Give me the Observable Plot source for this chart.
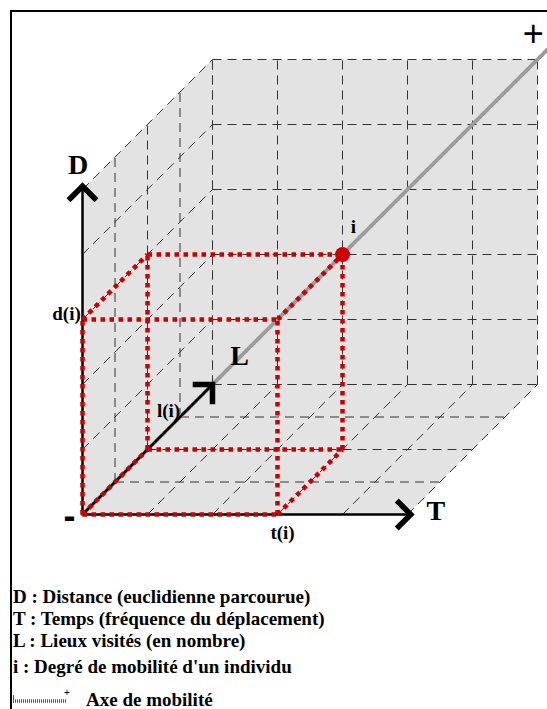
<!DOCTYPE html>
<html><head><meta charset="utf-8">
<script src="https://cdn.jsdelivr.net/npm/d3@7"></script>
<script src="https://cdn.jsdelivr.net/npm/@observablehq/plot@0.6"></script>
<style>
body{margin:0;background:#fff}
#wrap{position:relative;width:547px;height:709px;overflow:hidden;background:#fff}
#chart{position:absolute;left:0;top:0}
#legend{position:absolute;left:0;top:560px}
#frame{position:absolute;left:10px;top:10px;width:600px;height:800px;border-left:2px solid #000;border-top:2px solid #000;pointer-events:none}
</style></head>
<body><div id="wrap"><div id="chart"></div><div id="legend"></div><div id="frame"></div></div>
<script>
// ---- data ----
const T_TICKS = [0, 1, 2, 3, 4, 5];          // Temps grid
const D_TICKS = [0, 1, 2, 3, 4, 5];          // Distance grid
const L_TICKS = [0, 1, 2, 3, 4];             // Lieux grid (depth)
const individu = {t: 3, d: 3, l: 2};         // position of individual i
const axisEnd = {t: 5.05, d: 5.05, l: 4};    // length of the three axes
const mobilityEnd = {t: 5.35, d: 5.35, l: 3.6}; // end of mobility axis
const legendLines = [
  "D : Distance (euclidienne parcourue)",
  "T : Temps (fréquence du déplacement)",
  "L : Lieux visités (en nombre)",
  "i : Degré de mobilité d'un individu"
];
const legendAxis = "Axe de mobilité";

// ---- oblique projection ----
const DEPTH = 0.5;
const px = p => p.t + DEPTH * p.l;
const py = p => p.d + DEPTH * p.l;
const tMax = d3.max(T_TICKS), dMax = d3.max(D_TICKS), lMax = d3.max(L_TICKS);
const O = {t: 0, d: 0, l: 0};

// silhouette of the cube (back wall + left wall + floor)
const hull = [
  {t: 0, d: 0, l: 0}, {t: 0, d: dMax, l: 0}, {t: 0, d: dMax, l: lMax},
  {t: tMax, d: dMax, l: lMax}, {t: tMax, d: 0, l: lMax}, {t: tMax, d: 0, l: 0}
];

// dashed grid on the three walls
const grid = [];
for (const t of T_TICKS) grid.push([{t, d: 0, l: lMax}, {t, d: dMax, l: lMax}]);
for (const d of D_TICKS) grid.push([{t: 0, d, l: lMax}, {t: tMax, d, l: lMax}]);
for (const l of L_TICKS) grid.push([{t: 0, d: 0, l}, {t: 0, d: dMax, l}]);
for (const d of D_TICKS) grid.push([{t: 0, d, l: 0}, {t: 0, d, l: lMax}]);
for (const l of L_TICKS) grid.push([{t: 0, d: 0, l}, {t: tMax, d: 0, l}]);
for (const t of T_TICKS) grid.push([{t, d: 0, l: 0}, {t, d: 0, l: lMax}]);

// box of the individual
const corners = [];
for (const t of [0, individu.t]) for (const d of [0, individu.d]) for (const l of [0, individu.l]) corners.push({t, d, l});
const box = [];
for (let i = 0; i < corners.length; i++) for (let j = i + 1; j < corners.length; j++) {
  const a = corners[i], b = corners[j];
  const diff = (a.t !== b.t) + (a.d !== b.d) + (a.l !== b.l);
  if (diff === 1) box.push([a, b]);
}

const axes = [{t: axisEnd.t, d: 0, l: 0}, {t: 0, d: axisEnd.d, l: 0}, {t: 0, d: 0, l: axisEnd.l}];

function chevron(deg) {
  const a = deg * Math.PI / 180, c = Math.cos(a), s = Math.sin(a);
  const rot = (x, y) => [x * c - y * s, x * s + y * c];
  return {draw(ctx, size) {
    const r = Math.sqrt(size / Math.PI);
    const p1 = rot(-r, r), p2 = rot(r, r);
    ctx.moveTo(p1[0], p1[1]); ctx.lineTo(0, 0); ctx.lineTo(p2[0], p2[1]);
  }};
}
const seg = {x1: s => px(s[0]), y1: s => py(s[0]), x2: s => px(s[1]), y2: s => py(s[1])};
const serif = {fontFamily: "Liberation Serif, Times New Roman, serif", fontWeight: "bold", fill: "black"};
const label = (p, text, opts) => Plot.text([p], {x: px, y: py, text: () => text, ...serif, ...opts});
const head = (p, deg) => Plot.dot([p], {x: px, y: py, r: 14, symbol: chevron(deg), fill: "none", stroke: "black", strokeWidth: 5.5, strokeLinejoin: "miter"});

const chart = Plot.plot({
  width: 547, height: 560,
  x: {domain: [0, 1], range: [82, 147], axis: null},
  y: {domain: [0, 1], range: [514, 449], axis: null},
  style: {background: "transparent", overflow: "visible"},
  marks: [
    Plot.line(hull, {x: px, y: py, fill: "#e3e3e3", stroke: "none"}),
    Plot.link(grid, {...seg, stroke: "#333", strokeWidth: 1, strokeDasharray: "9,6"}),
    Plot.line([O, mobilityEnd], {x: px, y: py, stroke: "#9c9c9c", strokeWidth: 4, strokeDasharray: "1.4,2"}),
    Plot.link(axes, {x1: () => 0, y1: () => 0, x2: px, y2: py, stroke: "black", strokeWidth: 2.5}),
    head(axes[0], 90), head(axes[1], 0), head(axes[2], 45),
    Plot.link(box, {...seg, stroke: "#cc0000", strokeWidth: 4.5, strokeDasharray: "4.5,4.5"}),
    Plot.dot([individu], {x: px, y: py, r: 7.5, fill: "#d00000"}),
    label(axes[1], "D", {fontSize: 28, dx: -4.5, dy: -21.5}),
    label(axes[0], "T", {fontSize: 28, dx: 25, dy: -3}),
    label(axes[2], "L", {fontSize: 28, dx: 27, dy: -28}),
    label({t: 0, d: individu.d, l: 0}, "d(i)", {fontSize: 19, dx: -16, dy: -6}),
    label({t: 0, d: 0, l: individu.l}, "l(i)", {fontSize: 19, dx: 21, dy: -39}),
    label({t: individu.t, d: 0, l: 0}, "t(i)", {fontSize: 19, dx: 5, dy: 18}),
    label(individu, "i", {fontSize: 19, dx: 11, dy: -28}),
    Plot.text([O], {x: px, y: py, text: () => "-", fontFamily: "Liberation Sans, Arial, sans-serif", fontWeight: "bold", fontSize: 36, dx: -13, dy: 2}),
    Plot.text([mobilityEnd], {x: px, y: py, text: () => "+", fontFamily: "Liberation Sans, Arial, sans-serif", fontSize: 36, dx: -14, dy: -15})
  ]
});
document.getElementById("chart").appendChild(chart);

// ---- legend ----
const leg = d3.select("#legend").append("svg").attr("width", 547).attr("height", 149)
  .style("font-family", "Liberation Serif, Times New Roman, serif").style("font-weight", "bold").style("font-size", "19px");
const baselines = [43, 65, 87, 113];
leg.selectAll("text.l").data(legendLines).join("text").attr("class", "l")
  .attr("x", 13).attr("y", (d, i) => baselines[i]).text(d => d);
leg.append("line").attr("x1", 13).attr("x2", 66).attr("y1", 141).attr("y2", 141)
  .attr("stroke", "#555").attr("stroke-width", 3.5).attr("stroke-dasharray", "1,1");
leg.append("line").attr("x1", 13.5).attr("x2", 13.5).attr("y1", 135).attr("y2", 143).attr("stroke", "#555").attr("stroke-width", 1);
leg.append("text").attr("x", 67).attr("y", 136).attr("text-anchor", "middle").style("font-size", "10px").style("font-family", "Liberation Sans, Arial, sans-serif").style("font-weight", "normal").text("+");
leg.append("text").attr("x", 86).attr("y", 146).text(legendAxis);
</script>
</body></html>
